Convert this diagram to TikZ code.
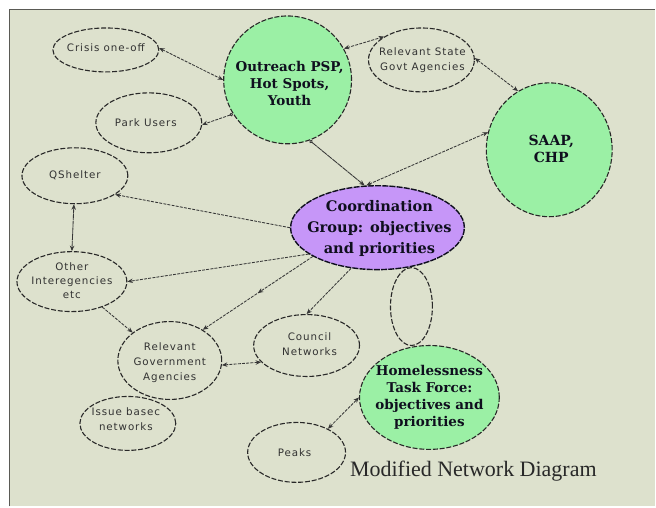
\documentclass[tikz,border=0pt]{standalone}
\usepackage{fontspec}
\setmainfont{Liberation Serif}
\newfontfamily\labfont[LetterSpace=9]{DejaVu Sans}
\newfontfamily\boldfont{DejaVu Serif}
\usetikzlibrary{shapes.geometric,arrows.meta,decorations.markings}
\definecolor{panel}{RGB}{221,225,205}
\definecolor{framec}{RGB}{90,90,85}
\definecolor{edgec}{RGB}{40,40,40}
\definecolor{linkc}{RGB}{55,55,55}
\definecolor{greenfill}{RGB}{155,240,165}
\definecolor{purplefill}{RGB}{198,150,248}
\definecolor{labtext}{RGB}{50,50,50}
\definecolor{boldtext}{RGB}{15,15,30}
\begin{document}
\begin{tikzpicture}[x=1pt,y=-1pt,
  oval/.style={ellipse, draw=edgec, line width=1.1pt, dash pattern=on 5pt off 1.8pt, inner sep=0pt},
  greenoval/.style={oval, fill=greenfill},
  purpleoval/.style={oval, fill=purplefill, draw=boldtext, line width=1.4pt, dash pattern=on 6pt off 1.2pt},
  lbl/.style={font=\labfont\fontsize{10.3}{15}\selectfont, text=labtext, align=center, inner sep=0pt},
  blbl/.style={font=\boldfont\bfseries\fontsize{13.5}{17}\selectfont, text=boldtext, align=center, inner sep=0pt},
  link/.style={draw=linkc, line width=0.85pt, dash pattern=on 3pt off 1.2pt},
  tip/.style={-{Stealth[length=5.5pt,width=4.5pt]}},
  bitip/.style={{Stealth[length=5.5pt,width=4.5pt]}-{Stealth[length=5.5pt,width=4.5pt]}},
  circtip/.style={{Circle[open,length=3.5pt]}-{Stealth[length=5.5pt,width=4.5pt]}}
]
% background and frame
\fill[white] (0,0) rectangle (656,507);
\fill[panel] (9,9) rectangle (656,507);
\draw[framec, line width=1.8pt] (9.5,507) -- (9.5,9.5) -- (656,9.5);
\useasboundingbox (0,0) rectangle (656,507);

% nodes (ellipses)
\node[oval, minimum width=106pt, minimum height=44pt] (crisis) at (106,50) {};
\node[greenoval, minimum width=128pt, minimum height=128pt] (outreach) at (288,80) {};
\node[oval, minimum width=106pt, minimum height=60pt] (park) at (149,123) {};
\node[oval, minimum width=106pt, minimum height=56pt] (qshelter) at (75,176) {};
\node[oval, minimum width=106pt, minimum height=64pt] (state) at (422,60) {};
\node[greenoval, minimum width=126pt, minimum height=134pt] (saap) at (550,150) {};
\node[purpleoval, minimum width=174pt, minimum height=84pt] (coord) at (378,228) {};
\node[oval, minimum width=110pt, minimum height=60pt] (other) at (72,282) {};
\node[oval, minimum width=104pt, minimum height=78pt] (rga) at (170,361) {};
\node[oval, minimum width=96pt, minimum height=54pt] (issue) at (128,424) {};
\node[oval, minimum width=106pt, minimum height=62pt] (council) at (307,346) {};
\node[oval, minimum width=98pt, minimum height=60pt] (peaks) at (297,453) {};
\node[greenoval, minimum width=140pt, minimum height=104pt] (htf) at (430,398) {};
\node[oval, minimum width=42pt, minimum height=78pt] (loop) at (412,307) {};

% texts
\node[lbl] (tcrisis) at (106,48) {Crisis one-off};
\node[blbl] (toutreach) at (290,84) {Outreach PSP,\\Hot Spots,\\Youth};
\node[lbl] (tpark) at (146,123) {Park Users};
\node[lbl] (tqshelter) at (75,175) {QShelter};
\node[lbl] (tstate) at (423,60) {Relevant State\\Govt Agencies};
\node[blbl, font=\boldfont\bfseries\fontsize{14}{17}\selectfont] (tsaap) at (552,149) {SAAP,\\CHP};
\node[blbl, font=\boldfont\bfseries\fontsize{14.6}{21}\selectfont] (tcoord) at (380,229) {Coordination\\Group: objectives\\and priorities};
\node[lbl, font=\labfont\fontsize{10.3}{14}\selectfont] (tother) at (72,281) {Other\\Interegencies\\etc};
\node[lbl] (trga) at (170,363) {Relevant\\Government\\Agencies};
\node[lbl] (tissue) at (126,420) {Issue basec\\networks};
\node[lbl] (tcouncil) at (310,345) {Council\\Networks};
\node[lbl] (tpeaks) at (295,453) {Peaks};
\node[blbl] (thtf) at (430,398) {Homelessness\\Task Force:\\objectives and\\priorities};
\node[font=\fontsize{22}{24}\selectfont, text=edgec, inner sep=0pt] (title) at (474,472) {Modified Network Diagram};

% connectors
\draw[link, bitip] (crisis.2) -- (outreach.180);
\draw[link, circtip] (outreach.212) -- (park.-2);
\draw[link, circtip, dash pattern=on 6pt off 0.6pt] (outreach.290) -- (coord.107);
\draw[link, bitip] (outreach.29) -- (state.148);
\draw[link, bitip] (state.2) -- (saap.118);
\draw[link, bitip] (coord.105) -- (saap.164);
\draw[link, tip] (coord.180) -- (qshelter.-25);
\draw[link, bitip, dash pattern=on 6pt off 0.6pt] (qshelter.268) -- (other.90);
\draw[link, tip] (coord.201) -- (other.0);
\draw[link, tip, postaction={decorate}, decoration={markings, mark=at position 0.5 with {\arrow{Stealth[length=5.5pt,width=4.5pt]}}}] (coord.204) -- (rga.43);
\draw[link, tip] (coord.237) -- (council.90);
\draw[link, tip] (other.-40) -- (rga.143);
\draw[link, bitip] (rga.-5) -- (council.200);
\draw[link, bitip] (peaks.37) -- (htf.180);
\end{tikzpicture}
\end{document}
